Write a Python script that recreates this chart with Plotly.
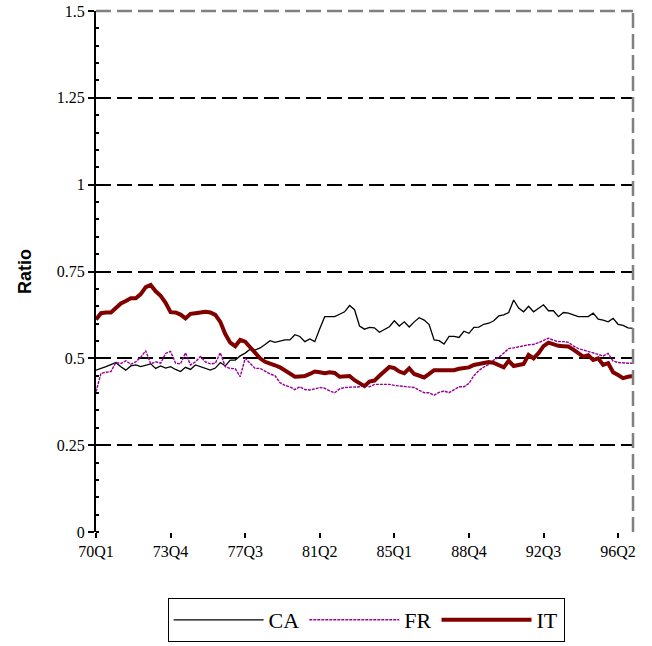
import plotly.graph_objects as go

tick_labels = ["70Q1", "73Q4", "77Q3", "81Q2", "85Q1", "88Q4", "92Q3", "96Q2"]
tick_pos = [0, 15, 30, 45, 60, 75, 90, 105]

ca = [0.466, 0.470, 0.476, 0.482, 0.488, 0.476, 0.466, 0.478, 0.481, 0.476,
      0.480, 0.484, 0.471, 0.478, 0.472, 0.476, 0.468, 0.462, 0.474, 0.468,
      0.481, 0.476, 0.470, 0.466, 0.472, 0.488, 0.478, 0.495, 0.495, 0.507,
      0.515, 0.526, 0.524, 0.530, 0.540, 0.551, 0.546, 0.550, 0.553, 0.553,
      0.568, 0.563, 0.548, 0.556, 0.548, 0.585, 0.620, 0.620, 0.620, 0.627,
      0.634, 0.652, 0.640, 0.593, 0.584, 0.589, 0.588, 0.575, 0.582, 0.591,
      0.608, 0.593, 0.605, 0.590, 0.605, 0.617, 0.610, 0.597, 0.553, 0.551,
      0.541, 0.563, 0.563, 0.560, 0.578, 0.572, 0.589, 0.590, 0.598, 0.601,
      0.608, 0.622, 0.625, 0.632, 0.668, 0.645, 0.634, 0.650, 0.634, 0.645,
      0.654, 0.637, 0.637, 0.620, 0.632, 0.630, 0.625, 0.620, 0.620, 0.620,
      0.630, 0.613, 0.610, 0.605, 0.615, 0.598, 0.595, 0.588, 0.586]

fr = [0.404, 0.457, 0.460, 0.462, 0.488, 0.485, 0.493, 0.483, 0.490, 0.503,
      0.522, 0.484, 0.490, 0.486, 0.514, 0.520, 0.486, 0.484, 0.516, 0.481,
      0.490, 0.505, 0.490, 0.484, 0.486, 0.516, 0.476, 0.471, 0.470, 0.447,
      0.500, 0.484, 0.471, 0.471, 0.462, 0.455, 0.450, 0.430, 0.422, 0.418,
      0.410, 0.418, 0.410, 0.409, 0.412, 0.416, 0.414, 0.406, 0.401, 0.412,
      0.416, 0.416, 0.416, 0.418, 0.423, 0.418, 0.425, 0.425, 0.425, 0.425,
      0.422, 0.420, 0.418, 0.416, 0.416, 0.408, 0.401, 0.401, 0.394, 0.402,
      0.406, 0.401, 0.410, 0.418, 0.418, 0.428, 0.450, 0.465, 0.475, 0.483,
      0.495, 0.503, 0.515, 0.528, 0.530, 0.534, 0.536, 0.539, 0.540, 0.545,
      0.552, 0.558, 0.552, 0.548, 0.548, 0.546, 0.536, 0.528, 0.524, 0.520,
      0.516, 0.512, 0.507, 0.514, 0.492, 0.488, 0.486, 0.486, 0.486]

it = [0.612, 0.630, 0.632, 0.632, 0.645, 0.658, 0.665, 0.673, 0.673, 0.685,
      0.705, 0.711, 0.693, 0.680, 0.660, 0.633, 0.632, 0.626, 0.615, 0.628,
      0.630, 0.632, 0.634, 0.632, 0.625, 0.605, 0.570, 0.545, 0.535, 0.553,
      0.548, 0.532, 0.515, 0.500, 0.490, 0.486, 0.480, 0.474, 0.466, 0.458,
      0.447, 0.448, 0.449, 0.455, 0.462, 0.460, 0.457, 0.460, 0.458, 0.447,
      0.448, 0.449, 0.437, 0.428, 0.420, 0.433, 0.436, 0.450, 0.462, 0.475,
      0.472, 0.462, 0.457, 0.471, 0.455, 0.450, 0.445, 0.455, 0.466, 0.466,
      0.466, 0.466, 0.466, 0.470, 0.472, 0.474, 0.481, 0.484, 0.487, 0.489,
      0.487, 0.480, 0.474, 0.493, 0.478, 0.481, 0.484, 0.510, 0.500, 0.515,
      0.535, 0.545, 0.540, 0.536, 0.535, 0.534, 0.525, 0.515, 0.505, 0.509,
      0.495, 0.500, 0.481, 0.486, 0.460, 0.452, 0.443, 0.447, 0.449]

x = list(range(len(ca)))

fig = go.Figure()
fig.add_trace(go.Scatter(x=x, y=ca, name="CA", mode="lines",
                         line=dict(color="black", width=1.3)))
fig.add_trace(go.Scatter(x=x, y=fr, name="FR", mode="lines",
                         line=dict(color="#990099", width=1.4, dash="3px,1px")))
fig.add_trace(go.Scatter(x=x, y=it, name="IT", mode="lines",
                         line=dict(color="#800000", width=4)))

serif = "Liberation Serif, Times New Roman, serif"

fig.update_layout(
    width=652, height=646,
    margin=dict(l=96, r=19, t=11, b=114, autoexpand=False),
    paper_bgcolor="white", plot_bgcolor="white",
    showlegend=True,
    legend=dict(orientation="h", x=0.503, xanchor="center",
                yref="container", y=1 - 598 / 646, yanchor="top",
                bordercolor="black", borderwidth=1,
                font=dict(family=serif, size=22, color="black"),
                itemwidth=90, tracegroupgap=0),
    xaxis=dict(range=[0, 108], tickvals=tick_pos, ticktext=tick_labels,
               automargin=False,
               showgrid=False, zeroline=False, showline=False,
               ticks="outside", ticklen=5, tickwidth=1.5, tickcolor="black",
               tickfont=dict(family=serif, size=16, color="black")),
    yaxis=dict(range=[0, 1.5], tickvals=[0, 0.25, 0.5, 0.75, 1, 1.25, 1.5],
               ticktext=["0", "0.25", "0.5", "0.75", "1", "1.25", "1.5"],
               automargin=False,
               showgrid=True, gridcolor="black", gridwidth=2, griddash="15px,6px",
               zeroline=False, showline=True, linecolor="black", linewidth=2,
               ticks="outside", ticklen=6, tickwidth=1.5, tickcolor="black",
               minor=dict(dtick=0.05, ticks="inside", ticklen=3, tickcolor="black", showgrid=False),
               tickfont=dict(family=serif, size=16, color="black"),
               title=dict(text="<b>Ratio</b>", font=dict(family="Liberation Sans, Arial", size=18, color="black"),
                          standoff=20)),
)

# grey dashed top and right borders of plot area
fig.add_shape(type="line", xref="paper", yref="paper", x0=0, x1=1, y0=1, y1=1,
              line=dict(color="grey", width=2.5, dash="15px,6px"), layer="above")
fig.add_shape(type="line", xref="paper", yref="paper", x0=1, x1=1, y0=0, y1=1,
              line=dict(color="grey", width=2.5, dash="15px,6px"), layer="above")

fig.write_html("out.html")
